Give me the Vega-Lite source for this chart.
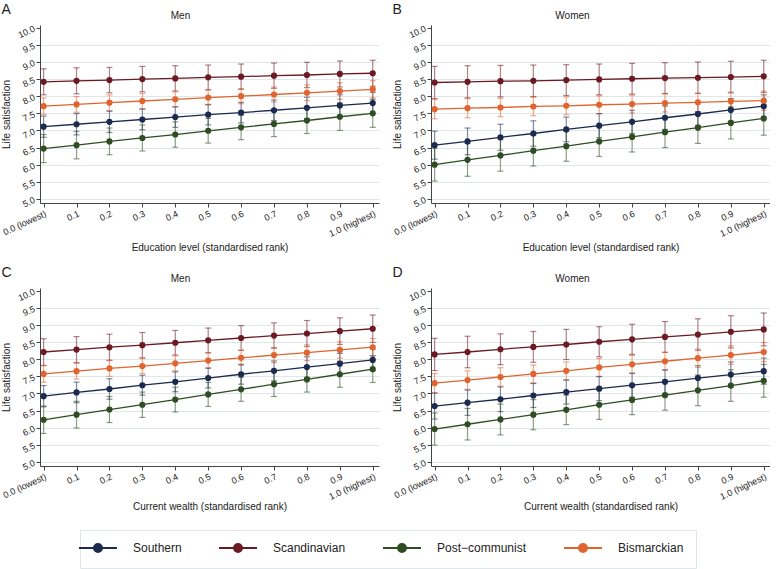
{
"$schema": "https://vega.github.io/schema/vega-lite/v6.json",
"padding": {"left": 1, "top": 3, "right": 0, "bottom": 0},
"background": "white",
"datasets": {"d": [
{"p":"A","g":"Southern","x":0,"m":7.11,"e":0.31},{"p":"A","g":"Southern","x":0.1,"m":7.18,"e":0.31},{"p":"A","g":"Southern","x":0.2,"m":7.25,"e":0.31},{"p":"A","g":"Southern","x":0.3,"m":7.32,"e":0.30},{"p":"A","g":"Southern","x":0.4,"m":7.39,"e":0.30},{"p":"A","g":"Southern","x":0.5,"m":7.46,"e":0.30},{"p":"A","g":"Southern","x":0.6,"m":7.52,"e":0.30},{"p":"A","g":"Southern","x":0.7,"m":7.59,"e":0.30},{"p":"A","g":"Southern","x":0.8,"m":7.66,"e":0.31},{"p":"A","g":"Southern","x":0.9,"m":7.73,"e":0.31},{"p":"A","g":"Southern","x":1,"m":7.80,"e":0.31},
{"p":"A","g":"Scandinavian","x":0,"m":8.42,"e":0.38},{"p":"A","g":"Scandinavian","x":0.1,"m":8.45,"e":0.38},{"p":"A","g":"Scandinavian","x":0.2,"m":8.47,"e":0.37},{"p":"A","g":"Scandinavian","x":0.3,"m":8.50,"e":0.37},{"p":"A","g":"Scandinavian","x":0.4,"m":8.52,"e":0.37},{"p":"A","g":"Scandinavian","x":0.5,"m":8.55,"e":0.36},{"p":"A","g":"Scandinavian","x":0.6,"m":8.57,"e":0.37},{"p":"A","g":"Scandinavian","x":0.7,"m":8.60,"e":0.37},{"p":"A","g":"Scandinavian","x":0.8,"m":8.62,"e":0.37},{"p":"A","g":"Scandinavian","x":0.9,"m":8.65,"e":0.38},{"p":"A","g":"Scandinavian","x":1,"m":8.67,"e":0.38},
{"p":"A","g":"Post−communist","x":0,"m":6.47,"e":0.41},{"p":"A","g":"Post−communist","x":0.1,"m":6.57,"e":0.40},{"p":"A","g":"Post−communist","x":0.2,"m":6.68,"e":0.39},{"p":"A","g":"Post−communist","x":0.3,"m":6.78,"e":0.38},{"p":"A","g":"Post−communist","x":0.4,"m":6.88,"e":0.37},{"p":"A","g":"Post−communist","x":0.5,"m":6.99,"e":0.36},{"p":"A","g":"Post−communist","x":0.6,"m":7.09,"e":0.36},{"p":"A","g":"Post−communist","x":0.7,"m":7.19,"e":0.37},{"p":"A","g":"Post−communist","x":0.8,"m":7.29,"e":0.38},{"p":"A","g":"Post−communist","x":0.9,"m":7.40,"e":0.40},{"p":"A","g":"Post−communist","x":1,"m":7.50,"e":0.41},
{"p":"A","g":"Bismarckian","x":0,"m":7.71,"e":0.24},{"p":"A","g":"Bismarckian","x":0.1,"m":7.76,"e":0.23},{"p":"A","g":"Bismarckian","x":0.2,"m":7.81,"e":0.23},{"p":"A","g":"Bismarckian","x":0.3,"m":7.86,"e":0.22},{"p":"A","g":"Bismarckian","x":0.4,"m":7.91,"e":0.22},{"p":"A","g":"Bismarckian","x":0.5,"m":7.96,"e":0.22},{"p":"A","g":"Bismarckian","x":0.6,"m":8.00,"e":0.22},{"p":"A","g":"Bismarckian","x":0.7,"m":8.05,"e":0.22},{"p":"A","g":"Bismarckian","x":0.8,"m":8.10,"e":0.23},{"p":"A","g":"Bismarckian","x":0.9,"m":8.15,"e":0.24},{"p":"A","g":"Bismarckian","x":1,"m":8.20,"e":0.25},
{"p":"B","g":"Southern","x":0,"m":6.57,"e":0.41},{"p":"B","g":"Southern","x":0.1,"m":6.68,"e":0.39},{"p":"B","g":"Southern","x":0.2,"m":6.80,"e":0.38},{"p":"B","g":"Southern","x":0.3,"m":6.91,"e":0.37},{"p":"B","g":"Southern","x":0.4,"m":7.03,"e":0.36},{"p":"B","g":"Southern","x":0.5,"m":7.14,"e":0.35},{"p":"B","g":"Southern","x":0.6,"m":7.25,"e":0.34},{"p":"B","g":"Southern","x":0.7,"m":7.37,"e":0.34},{"p":"B","g":"Southern","x":0.8,"m":7.48,"e":0.33},{"p":"B","g":"Southern","x":0.9,"m":7.60,"e":0.33},{"p":"B","g":"Southern","x":1,"m":7.71,"e":0.33},
{"p":"B","g":"Scandinavian","x":0,"m":8.40,"e":0.47},{"p":"B","g":"Scandinavian","x":0.1,"m":8.42,"e":0.47},{"p":"B","g":"Scandinavian","x":0.2,"m":8.44,"e":0.46},{"p":"B","g":"Scandinavian","x":0.3,"m":8.45,"e":0.46},{"p":"B","g":"Scandinavian","x":0.4,"m":8.47,"e":0.45},{"p":"B","g":"Scandinavian","x":0.5,"m":8.49,"e":0.45},{"p":"B","g":"Scandinavian","x":0.6,"m":8.51,"e":0.45},{"p":"B","g":"Scandinavian","x":0.7,"m":8.53,"e":0.45},{"p":"B","g":"Scandinavian","x":0.8,"m":8.54,"e":0.46},{"p":"B","g":"Scandinavian","x":0.9,"m":8.56,"e":0.46},{"p":"B","g":"Scandinavian","x":1,"m":8.58,"e":0.47},
{"p":"B","g":"Post−communist","x":0,"m":6.00,"e":0.48},{"p":"B","g":"Post−communist","x":0.1,"m":6.14,"e":0.48},{"p":"B","g":"Post−communist","x":0.2,"m":6.27,"e":0.46},{"p":"B","g":"Post−communist","x":0.3,"m":6.41,"e":0.45},{"p":"B","g":"Post−communist","x":0.4,"m":6.54,"e":0.44},{"p":"B","g":"Post−communist","x":0.5,"m":6.68,"e":0.44},{"p":"B","g":"Post−communist","x":0.6,"m":6.81,"e":0.44},{"p":"B","g":"Post−communist","x":0.7,"m":6.95,"e":0.45},{"p":"B","g":"Post−communist","x":0.8,"m":7.08,"e":0.46},{"p":"B","g":"Post−communist","x":0.9,"m":7.22,"e":0.47},{"p":"B","g":"Post−communist","x":1,"m":7.35,"e":0.49},
{"p":"B","g":"Bismarckian","x":0,"m":7.62,"e":0.28},{"p":"B","g":"Bismarckian","x":0.1,"m":7.65,"e":0.28},{"p":"B","g":"Bismarckian","x":0.2,"m":7.67,"e":0.27},{"p":"B","g":"Bismarckian","x":0.3,"m":7.70,"e":0.27},{"p":"B","g":"Bismarckian","x":0.4,"m":7.72,"e":0.26},{"p":"B","g":"Bismarckian","x":0.5,"m":7.75,"e":0.26},{"p":"B","g":"Bismarckian","x":0.6,"m":7.77,"e":0.26},{"p":"B","g":"Bismarckian","x":0.7,"m":7.80,"e":0.26},{"p":"B","g":"Bismarckian","x":0.8,"m":7.82,"e":0.27},{"p":"B","g":"Bismarckian","x":0.9,"m":7.85,"e":0.27},{"p":"B","g":"Bismarckian","x":1,"m":7.87,"e":0.28},
{"p":"C","g":"Southern","x":0,"m":6.92,"e":0.31},{"p":"C","g":"Southern","x":0.1,"m":7.03,"e":0.30},{"p":"C","g":"Southern","x":0.2,"m":7.13,"e":0.30},{"p":"C","g":"Southern","x":0.3,"m":7.24,"e":0.29},{"p":"C","g":"Southern","x":0.4,"m":7.34,"e":0.29},{"p":"C","g":"Southern","x":0.5,"m":7.45,"e":0.29},{"p":"C","g":"Southern","x":0.6,"m":7.56,"e":0.29},{"p":"C","g":"Southern","x":0.7,"m":7.66,"e":0.29},{"p":"C","g":"Southern","x":0.8,"m":7.77,"e":0.30},{"p":"C","g":"Southern","x":0.9,"m":7.87,"e":0.30},{"p":"C","g":"Southern","x":1,"m":7.98,"e":0.31},
{"p":"C","g":"Scandinavian","x":0,"m":8.21,"e":0.39},{"p":"C","g":"Scandinavian","x":0.1,"m":8.28,"e":0.38},{"p":"C","g":"Scandinavian","x":0.2,"m":8.35,"e":0.38},{"p":"C","g":"Scandinavian","x":0.3,"m":8.41,"e":0.37},{"p":"C","g":"Scandinavian","x":0.4,"m":8.48,"e":0.36},{"p":"C","g":"Scandinavian","x":0.5,"m":8.55,"e":0.36},{"p":"C","g":"Scandinavian","x":0.6,"m":8.62,"e":0.36},{"p":"C","g":"Scandinavian","x":0.7,"m":8.69,"e":0.37},{"p":"C","g":"Scandinavian","x":0.8,"m":8.75,"e":0.38},{"p":"C","g":"Scandinavian","x":0.9,"m":8.82,"e":0.39},{"p":"C","g":"Scandinavian","x":1,"m":8.89,"e":0.40},
{"p":"C","g":"Post−communist","x":0,"m":6.23,"e":0.40},{"p":"C","g":"Post−communist","x":0.1,"m":6.38,"e":0.39},{"p":"C","g":"Post−communist","x":0.2,"m":6.53,"e":0.38},{"p":"C","g":"Post−communist","x":0.3,"m":6.67,"e":0.37},{"p":"C","g":"Post−communist","x":0.4,"m":6.82,"e":0.36},{"p":"C","g":"Post−communist","x":0.5,"m":6.97,"e":0.35},{"p":"C","g":"Post−communist","x":0.6,"m":7.12,"e":0.35},{"p":"C","g":"Post−communist","x":0.7,"m":7.27,"e":0.36},{"p":"C","g":"Post−communist","x":0.8,"m":7.41,"e":0.37},{"p":"C","g":"Post−communist","x":0.9,"m":7.56,"e":0.38},{"p":"C","g":"Post−communist","x":1,"m":7.71,"e":0.39},
{"p":"C","g":"Bismarckian","x":0,"m":7.57,"e":0.24},{"p":"C","g":"Bismarckian","x":0.1,"m":7.65,"e":0.23},{"p":"C","g":"Bismarckian","x":0.2,"m":7.73,"e":0.23},{"p":"C","g":"Bismarckian","x":0.3,"m":7.80,"e":0.22},{"p":"C","g":"Bismarckian","x":0.4,"m":7.88,"e":0.22},{"p":"C","g":"Bismarckian","x":0.5,"m":7.96,"e":0.22},{"p":"C","g":"Bismarckian","x":0.6,"m":8.04,"e":0.22},{"p":"C","g":"Bismarckian","x":0.7,"m":8.12,"e":0.22},{"p":"C","g":"Bismarckian","x":0.8,"m":8.19,"e":0.23},{"p":"C","g":"Bismarckian","x":0.9,"m":8.27,"e":0.24},{"p":"C","g":"Bismarckian","x":1,"m":8.35,"e":0.25},
{"p":"D","g":"Southern","x":0,"m":6.63,"e":0.38},{"p":"D","g":"Southern","x":0.1,"m":6.73,"e":0.37},{"p":"D","g":"Southern","x":0.2,"m":6.83,"e":0.36},{"p":"D","g":"Southern","x":0.3,"m":6.94,"e":0.35},{"p":"D","g":"Southern","x":0.4,"m":7.04,"e":0.35},{"p":"D","g":"Southern","x":0.5,"m":7.14,"e":0.35},{"p":"D","g":"Southern","x":0.6,"m":7.24,"e":0.35},{"p":"D","g":"Southern","x":0.7,"m":7.34,"e":0.35},{"p":"D","g":"Southern","x":0.8,"m":7.45,"e":0.36},{"p":"D","g":"Southern","x":0.9,"m":7.55,"e":0.37},{"p":"D","g":"Southern","x":1,"m":7.65,"e":0.38},
{"p":"D","g":"Scandinavian","x":0,"m":8.14,"e":0.47},{"p":"D","g":"Scandinavian","x":0.1,"m":8.21,"e":0.46},{"p":"D","g":"Scandinavian","x":0.2,"m":8.29,"e":0.45},{"p":"D","g":"Scandinavian","x":0.3,"m":8.36,"e":0.45},{"p":"D","g":"Scandinavian","x":0.4,"m":8.43,"e":0.44},{"p":"D","g":"Scandinavian","x":0.5,"m":8.51,"e":0.44},{"p":"D","g":"Scandinavian","x":0.6,"m":8.58,"e":0.44},{"p":"D","g":"Scandinavian","x":0.7,"m":8.65,"e":0.45},{"p":"D","g":"Scandinavian","x":0.8,"m":8.72,"e":0.46},{"p":"D","g":"Scandinavian","x":0.9,"m":8.80,"e":0.47},{"p":"D","g":"Scandinavian","x":1,"m":8.87,"e":0.48},
{"p":"D","g":"Post−communist","x":0,"m":5.96,"e":0.47},{"p":"D","g":"Post−communist","x":0.1,"m":6.10,"e":0.46},{"p":"D","g":"Post−communist","x":0.2,"m":6.24,"e":0.45},{"p":"D","g":"Post−communist","x":0.3,"m":6.38,"e":0.44},{"p":"D","g":"Post−communist","x":0.4,"m":6.52,"e":0.43},{"p":"D","g":"Post−communist","x":0.5,"m":6.67,"e":0.43},{"p":"D","g":"Post−communist","x":0.6,"m":6.81,"e":0.43},{"p":"D","g":"Post−communist","x":0.7,"m":6.95,"e":0.44},{"p":"D","g":"Post−communist","x":0.8,"m":7.09,"e":0.45},{"p":"D","g":"Post−communist","x":0.9,"m":7.23,"e":0.46},{"p":"D","g":"Post−communist","x":1,"m":7.37,"e":0.48},
{"p":"D","g":"Bismarckian","x":0,"m":7.30,"e":0.28},{"p":"D","g":"Bismarckian","x":0.1,"m":7.39,"e":0.27},{"p":"D","g":"Bismarckian","x":0.2,"m":7.48,"e":0.27},{"p":"D","g":"Bismarckian","x":0.3,"m":7.57,"e":0.26},{"p":"D","g":"Bismarckian","x":0.4,"m":7.66,"e":0.26},{"p":"D","g":"Bismarckian","x":0.5,"m":7.76,"e":0.26},{"p":"D","g":"Bismarckian","x":0.6,"m":7.85,"e":0.26},{"p":"D","g":"Bismarckian","x":0.7,"m":7.94,"e":0.26},{"p":"D","g":"Bismarckian","x":0.8,"m":8.03,"e":0.27},{"p":"D","g":"Bismarckian","x":0.9,"m":8.12,"e":0.27},{"p":"D","g":"Bismarckian","x":1,"m":8.21,"e":0.28}
]},
"vconcat": [
{"hconcat": [
{"width": 339, "height": 178, "data": {"name": "d"}, "transform": [{"filter": "datum.p == 'A'"}],
 "title": {"text": "A", "anchor": "start", "frame": "bounds", "fontSize": 14, "fontWeight": "normal", "baseline": "alphabetic", "dy": 6, "offset": -12},
 "resolve": {"axis": {"x": "independent"}},
 "encoding": {"y": {"field": "m", "type": "quantitative", "scale": {"domain": [4.88, 10.08], "nice": false, "zero": false}, "axis": {"title": "Life satisfaction", "values": [5,5.5,6,6.5,7,7.5,8,8.5,9,9.5,10], "format": ".1f", "labelAngle": -25, "labelAlign": "right", "labelBaseline": "middle", "titlePadding": 5, "domain": true, "grid": true, "gridOpacity": {"condition": {"test": "datum.value == 10", "value": 0}, "value": 1}}}},
 "layer": [
  {"mark": {"type": "errorbar", "ticks": {"size": 6}, "thickness": 1.2, "opacity": 0.55},
   "encoding": {
    "x": {"field": "x", "type": "quantitative", "scale": {"domain": [-0.011, 1.019], "nice": false, "zero": false}, "axis": {"title": "Education level (standardised rank)", "values": [0,0.1,0.2,0.3,0.4,0.5,0.6,0.7,0.8,0.9,1], "labelExpr": "datum.value == 0 ? '0.0 (lowest)' : datum.value == 1 ? '1.0 (highest)' : format(datum.value, '.1f')", "labelAngle": -25, "labelAlign": "right", "labelBaseline": "top", "labelOverlap": false, "titlePadding": 4, "domain": true, "grid": false}},
    "yError": {"field": "e"},
    "color": {"field": "g", "type": "nominal"}}},
  {"mark": {"type": "line", "strokeWidth": 1.3},
   "encoding": {"x": {"field": "x", "type": "quantitative", "axis": null}, "color": {"field": "g", "type": "nominal"}}},
  {"mark": {"type": "point", "filled": true, "size": 38, "opacity": 1},
   "encoding": {"x": {"field": "x", "type": "quantitative", "axis": {"orient": "top", "title": "Men", "labels": false, "ticks": false, "domain": false, "grid": false, "titleX": 140, "titleY": -10, "titleBaseline": "middle", "titleAlign": "center"}},
    "color": {"field": "g", "type": "nominal", "scale": {"domain": ["Southern", "Scandinavian", "Post−communist", "Bismarckian"], "range": ["#1b2a4e", "#6b1a24", "#2f4d22", "#e0642f"]},
     "legend": {"title": null, "orient": "none", "legendX": 40, "legendY": 505, "direction": "horizontal", "columns": 4, "symbolType": "M-3.8,0L3.8,0M-0.8,0A0.8,0.8,0,1,1,0.8,0A0.8,0.8,0,1,1,-0.8,0Z", "symbolSize": 100, "symbolStrokeWidth": 2, "symbolOpacity": 1, "labelFontSize": 12, "labelOffset": 29, "columnPadding": 33, "padding": 12, "strokeColor": "#dfe6ea", "labelColor": "#222",
      "encode": {"symbols": {"update": {"fill": {"scale": "color", "field": "value"}, "stroke": {"scale": "color", "field": "value"}, "opacity": {"value": 1}, "fillOpacity": {"value": 1}, "strokeOpacity": {"value": 1}, "strokeWidth": {"value": 2}}}}}}}}
 ]},
{"width": 339, "height": 178, "data": {"name": "d"}, "transform": [{"filter": "datum.p == 'B'"}],
 "title": {"text": "B", "anchor": "start", "frame": "bounds", "fontSize": 14, "fontWeight": "normal", "baseline": "alphabetic", "dy": 6, "offset": -12},
 "resolve": {"axis": {"x": "independent"}},
 "encoding": {"y": {"field": "m", "type": "quantitative", "scale": {"domain": [4.88, 10.08], "nice": false, "zero": false}, "axis": {"title": "Life satisfaction", "values": [5,5.5,6,6.5,7,7.5,8,8.5,9,9.5,10], "format": ".1f", "labelAngle": -25, "labelAlign": "right", "labelBaseline": "middle", "titlePadding": 5, "domain": true, "grid": true, "gridOpacity": {"condition": {"test": "datum.value == 10", "value": 0}, "value": 1}}}},
 "layer": [
  {"mark": {"type": "errorbar", "ticks": {"size": 6}, "thickness": 1.2, "opacity": 0.55},
   "encoding": {
    "x": {"field": "x", "type": "quantitative", "scale": {"domain": [-0.011, 1.019], "nice": false, "zero": false}, "axis": {"title": "Education level (standardised rank)", "values": [0,0.1,0.2,0.3,0.4,0.5,0.6,0.7,0.8,0.9,1], "labelExpr": "datum.value == 0 ? '0.0 (lowest)' : datum.value == 1 ? '1.0 (highest)' : format(datum.value, '.1f')", "labelAngle": -25, "labelAlign": "right", "labelBaseline": "top", "labelOverlap": false, "titlePadding": 4, "domain": true, "grid": false}},
    "yError": {"field": "e"},
    "color": {"field": "g", "type": "nominal"}}},
  {"mark": {"type": "line", "strokeWidth": 1.3},
   "encoding": {"x": {"field": "x", "type": "quantitative", "axis": null}, "color": {"field": "g", "type": "nominal"}}},
  {"mark": {"type": "point", "filled": true, "size": 38, "opacity": 1},
   "encoding": {"x": {"field": "x", "type": "quantitative", "axis": {"orient": "top", "title": "Women", "labels": false, "ticks": false, "domain": false, "grid": false, "titleX": 141, "titleY": -10, "titleBaseline": "middle", "titleAlign": "center"}}, "color": {"field": "g", "type": "nominal"}}}
 ]}
]},
{"hconcat": [
{"width": 339, "height": 178, "data": {"name": "d"}, "transform": [{"filter": "datum.p == 'C'"}],
 "title": {"text": "C", "anchor": "start", "frame": "bounds", "fontSize": 14, "fontWeight": "normal", "baseline": "alphabetic", "dy": 6, "offset": -12},
 "resolve": {"axis": {"x": "independent"}},
 "encoding": {"y": {"field": "m", "type": "quantitative", "scale": {"domain": [4.88, 10.08], "nice": false, "zero": false}, "axis": {"title": "Life satisfaction", "values": [5,5.5,6,6.5,7,7.5,8,8.5,9,9.5,10], "format": ".1f", "labelAngle": -25, "labelAlign": "right", "labelBaseline": "middle", "titlePadding": 5, "domain": true, "grid": true, "gridOpacity": {"condition": {"test": "datum.value == 10", "value": 0}, "value": 1}}}},
 "layer": [
  {"mark": {"type": "errorbar", "ticks": {"size": 6}, "thickness": 1.2, "opacity": 0.55},
   "encoding": {
    "x": {"field": "x", "type": "quantitative", "scale": {"domain": [-0.011, 1.019], "nice": false, "zero": false}, "axis": {"title": "Current wealth (standardised rank)", "values": [0,0.1,0.2,0.3,0.4,0.5,0.6,0.7,0.8,0.9,1], "labelExpr": "datum.value == 0 ? '0.0 (lowest)' : datum.value == 1 ? '1.0 (highest)' : format(datum.value, '.1f')", "labelAngle": -25, "labelAlign": "right", "labelBaseline": "top", "labelOverlap": false, "titlePadding": 0, "domain": true, "grid": false}},
    "yError": {"field": "e"},
    "color": {"field": "g", "type": "nominal"}}},
  {"mark": {"type": "line", "strokeWidth": 1.3},
   "encoding": {"x": {"field": "x", "type": "quantitative", "axis": null}, "color": {"field": "g", "type": "nominal"}}},
  {"mark": {"type": "point", "filled": true, "size": 38, "opacity": 1},
   "encoding": {"x": {"field": "x", "type": "quantitative", "axis": {"orient": "top", "title": "Men", "labels": false, "ticks": false, "domain": false, "grid": false, "titleX": 140, "titleY": -10, "titleBaseline": "middle", "titleAlign": "center"}}, "color": {"field": "g", "type": "nominal"}}}
 ]},
{"width": 339, "height": 178, "data": {"name": "d"}, "transform": [{"filter": "datum.p == 'D'"}],
 "title": {"text": "D", "anchor": "start", "frame": "bounds", "fontSize": 14, "fontWeight": "normal", "baseline": "alphabetic", "dy": 6, "offset": -12},
 "resolve": {"axis": {"x": "independent"}},
 "encoding": {"y": {"field": "m", "type": "quantitative", "scale": {"domain": [4.88, 10.08], "nice": false, "zero": false}, "axis": {"title": "Life satisfaction", "values": [5,5.5,6,6.5,7,7.5,8,8.5,9,9.5,10], "format": ".1f", "labelAngle": -25, "labelAlign": "right", "labelBaseline": "middle", "titlePadding": 5, "domain": true, "grid": true, "gridOpacity": {"condition": {"test": "datum.value == 10", "value": 0}, "value": 1}}}},
 "layer": [
  {"mark": {"type": "errorbar", "ticks": {"size": 6}, "thickness": 1.2, "opacity": 0.55},
   "encoding": {
    "x": {"field": "x", "type": "quantitative", "scale": {"domain": [-0.011, 1.019], "nice": false, "zero": false}, "axis": {"title": "Current wealth (standardised rank)", "values": [0,0.1,0.2,0.3,0.4,0.5,0.6,0.7,0.8,0.9,1], "labelExpr": "datum.value == 0 ? '0.0 (lowest)' : datum.value == 1 ? '1.0 (highest)' : format(datum.value, '.1f')", "labelAngle": -25, "labelAlign": "right", "labelBaseline": "top", "labelOverlap": false, "titlePadding": 0, "domain": true, "grid": false}},
    "yError": {"field": "e"},
    "color": {"field": "g", "type": "nominal"}}},
  {"mark": {"type": "line", "strokeWidth": 1.3},
   "encoding": {"x": {"field": "x", "type": "quantitative", "axis": null}, "color": {"field": "g", "type": "nominal"}}},
  {"mark": {"type": "point", "filled": true, "size": 38, "opacity": 1},
   "encoding": {"x": {"field": "x", "type": "quantitative", "axis": {"orient": "top", "title": "Women", "labels": false, "ticks": false, "domain": false, "grid": false, "titleX": 141, "titleY": -10, "titleBaseline": "middle", "titleAlign": "center"}}, "color": {"field": "g", "type": "nominal"}}}
 ]}
]}
],
"config": {
 "font": "Liberation Sans",
 "view": {"stroke": null},
 "concat": {"spacing": 13},
 "hconcat": {"spacing": 18},
 "vconcat": {"spacing": 13},
 "axis": {"labelFont": "Liberation Sans", "titleFont": "Liberation Sans", "labelFontSize": 9, "titleFontSize": 10, "titleFontWeight": "normal", "labelColor": "#222", "titleColor": "#222", "domainColor": "#444", "tickColor": "#444", "tickSize": 4, "labelPadding": 2, "gridColor": "#e0e7eb", "gridWidth": 1},
 "title": {"font": "Liberation Sans", "color": "#222"},
 "legend": {"labelFont": "Liberation Sans"}
}
}
